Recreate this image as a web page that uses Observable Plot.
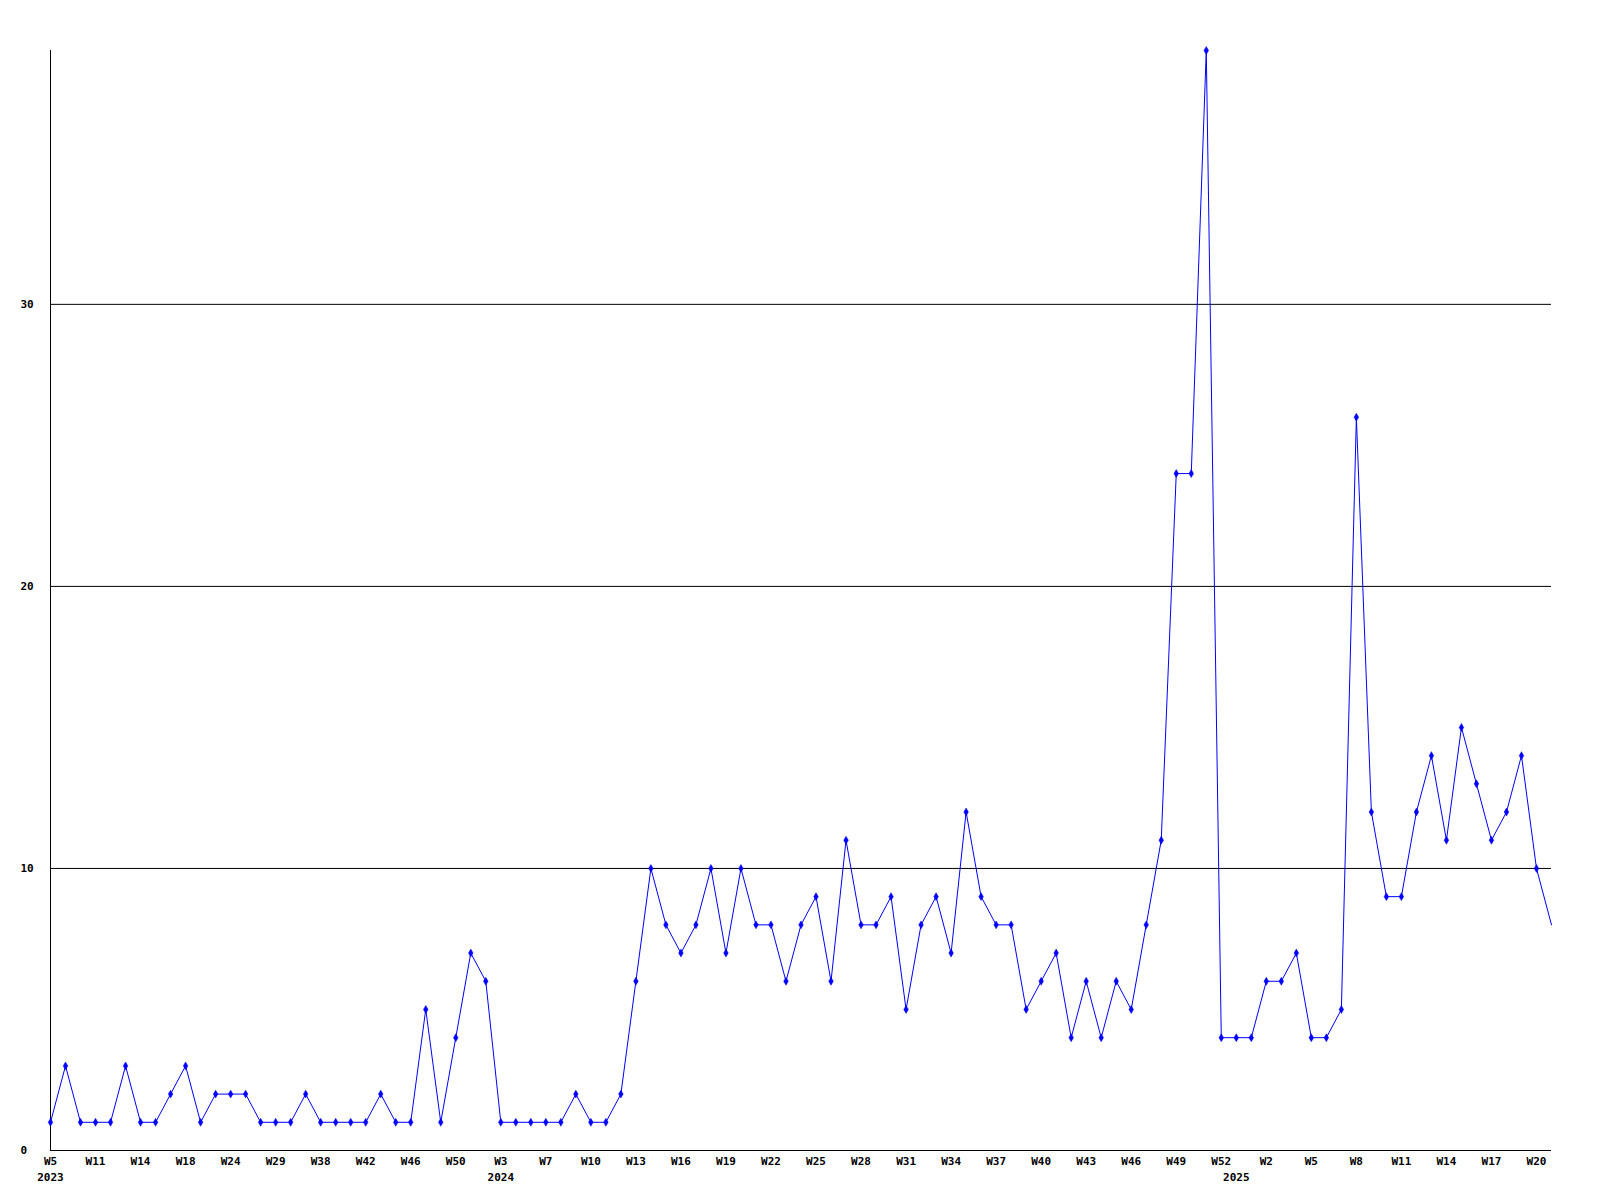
<!DOCTYPE html>
<html><head><meta charset="utf-8">
<script src="https://cdn.jsdelivr.net/npm/d3@7"></script>
<script src="https://cdn.jsdelivr.net/npm/@observablehq/plot@0.6"></script>
<style>body{margin:0;background:#fff;}</style>
</head><body><div id="chart"></div>
<script>
// weekly counts, one per plotted week (index 0..100)
const values = [
  1,3,1,1,1,3,1,1,2,3,
  1,2,2,2,1,1,1,2,1,1,
  1,1,2,1,1,5,1,4,7,6,
  1,1,1,1,1,2,1,1,2,6,
  10,8,7,8,10,7,10,8,8,6,
  8,9,6,11,8,8,9,5,8,9,
  7,12,9,8,8,5,6,7,4,6,
  4,6,5,8,11,24,24,39,4,4,
  4,6,6,7,4,4,5,26,12,9,
  9,12,14,11,15,13,11,12,14,10,
  8
];
const weekTickIndex = [0,3,6,9,12,15,18,21,24,27,30,33,36,39,42,45,48,51,54,57,60,63,66,69,72,75,78,81,84,87,90,93,96,99];
const weekTickLabels = ["W5","W11","W14","W18","W24","W29","W38","W42","W46","W50","W3","W7","W10","W13","W16","W19","W22","W25","W28","W31","W34","W37","W40","W43","W46","W49","W52","W2","W5","W8","W11","W14","W17","W20"];
const yearTickIndex = [0,30,79];
const yearTickLabels = ["2023","2024","2025"];
const yTicks = [0,10,20,30];
const gridValues = [10,20,30];

const data = values.map((v,i)=>({i, v}));
const markerData = data.slice(0, -1);
const weekMap = new Map(weekTickIndex.map((d,k)=>[d, weekTickLabels[k]]));
const yearMap = new Map(yearTickIndex.map((d,k)=>[d, yearTickLabels[k]]));

const chart = Plot.plot({
  width:1600, height:1200,
  marginLeft:50, marginRight:49, marginTop:50, marginBottom:50,
  style:{fontFamily:"'DejaVu Sans Mono', monospace", fontSize:"11px", fontWeight:"bold", color:"#000", background:"#fff", overflow:"visible"},
  x:{domain:[0,100], label:null},
  y:{domain:[0,39], label:null},
  marks:[
    Plot.ruleY(gridValues, {stroke:"#000", strokeWidth:1}),
    Plot.ruleY([0], {stroke:"#000", strokeWidth:1}),
    Plot.ruleX([0], {stroke:"#000", strokeWidth:1}),
    Plot.axisY(yTicks, {tickSize:0, tickPadding:0, textAnchor:"start", dx:-30, label:null}),
    Plot.axisX(weekTickIndex, {tickSize:0, tickPadding:7, tickFormat:d=>weekMap.get(d), label:null}),
    Plot.axisX(yearTickIndex, {tickSize:0, tickPadding:7, dy:16, tickFormat:d=>yearMap.get(d), label:null}),
    Plot.line(data, {x:"i", y:"v", stroke:"#0000ff", strokeWidth:1}),
    Plot.dot(markerData, {x:"i", y:"v", symbol:"diamond", r:2.4, fill:"#0000ff", stroke:"#0000ff", strokeWidth:0.5})
  ]
});
document.getElementById("chart").append(chart);
</script>
</body></html>
